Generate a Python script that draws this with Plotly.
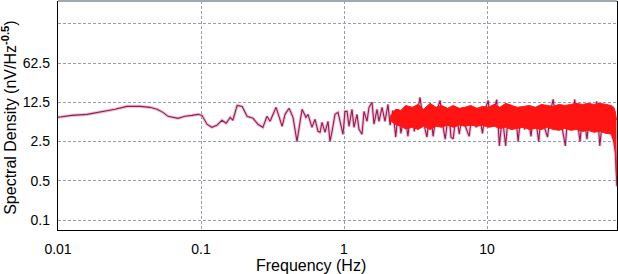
import plotly.graph_objects as go

# ---- data (frequency in Hz, spectral density in nV/Hz^-0.5)
low_freq = [0.0100, 0.0125, 0.0160, 0.0197, 0.0250, 0.0304, 0.0375, 0.0440, 0.0492, 0.0542,
            0.0588, 0.0690, 0.0773, 0.0865, 0.0953, 0.1016, 0.110, 0.119, 0.129, 0.140,
            0.150, 0.160, 0.167, 0.179, 0.194, 0.210, 0.231, 0.250, 0.271, 0.289,
            0.304, 0.335, 0.351, 0.369, 0.387, 0.413, 0.440, 0.469, 0.492, 0.509,
            0.542, 0.560, 0.597, 0.627, 0.658, 0.680, 0.702, 0.737, 0.773, 0.798,
            0.825, 0.865, 0.908, 0.953, 0.984, 1.016, 1.050, 1.084, 1.137, 1.175,
            1.233, 1.273, 1.336, 1.380, 1.448, 1.496, 1.570, 1.621, 1.701, 1.757,
            1.844, 1.935, 2.031]
low_psd = [6.77, 7.34, 7.65, 8.3, 9.4, 10.6, 10.6, 10.2, 9.4, 8.3,
           7.05, 6.5, 7.05, 7.34, 7.65, 7.34, 5.1, 4.49, 4.88, 6.0,
           5.3, 6.77, 6.0, 11.05, 10.6, 7.05, 6.5, 5.1, 4.49, 7.05,
           5.75, 10.2, 6.77, 4.68, 7.65, 9.8, 6.77, 2.5, 5.5, 9.4,
           6.77, 7.65, 4.49, 6.25, 3.81, 3.66, 5.5, 3.66, 5.75, 2.5,
           3.81, 7.65, 8.3, 5.1, 3.37, 8.65, 8.65, 4.68, 9.4, 4.49,
           7.65, 4.14, 3.37, 8.65, 5.75, 10.2, 12.5, 5.1, 9.4, 5.75,
           10.2, 5.75, 11.5]

spike_freq = [2.1, 2.2, 2.3, 2.4, 2.5, 2.65, 2.8, 2.95, 3.1, 3.25,
              3.4, 3.6, 3.8, 4.0, 4.2, 4.45, 4.7, 4.9, 5.1, 5.4,
              5.6, 5.8, 6.1, 6.4, 6.8, 7.1, 7.5, 7.9, 8.4, 8.9,
              9.3, 9.8, 10.2, 10.6, 11.1, 11.7, 12.2, 12.8, 13.5, 14.2,
              15.0, 15.8, 16.5, 17.4, 18.3, 19.2, 20.3, 21.4, 23.0, 24.0,
              25.2, 26.5, 27.8, 29.0, 30.5, 31.8, 33.5, 35.3, 37.0, 39.0,
              41.0, 43.0, 44.7, 47.0, 50.0, 52.5, 55.0, 58.5, 61.5, 65.0,
              70.0, 74.0, 77.0, 79.0, 81.0]
spike_psd = [4.9, 9.0, 3.0, 9.4, 3.5, 8.3, 3.1, 10.2, 3.8, 8.6,
             15.3, 5.5, 3.0, 9.4, 3.1, 8.6, 13.5, 5.0, 2.75, 8.6,
             3.0, 2.8, 8.0, 3.4, 9.4, 4.5, 3.1, 8.6, 4.5, 7.0,
             3.5, 10.0, 13.5, 4.5, 8.6, 14.0, 2.1, 7.0, 2.1, 9.4,
             4.1, 8.6, 2.5, 9.4, 4.1, 8.6, 3.1, 9.4, 2.5, 9.4,
             4.5, 3.0, 8.6, 14.1, 5.5, 9.4, 4.1, 2.1, 9.4, 4.5,
             14.1, 5.5, 2.5, 9.4, 2.75, 8.6, 4.1, 13.0, 2.1, 8.6,
             4.0, 3.5, 2.5, 1.6, 0.4]

band_freq = [2.1, 2.3, 2.5, 2.7, 3.0, 3.3, 3.6, 4.0, 4.4, 4.8,
             5.3, 5.8, 6.4, 7.0, 7.7, 8.5, 9.3, 10.2, 11.2, 12.3,
             13.5, 14.8, 16.3, 18.0, 19.8, 21.8, 24.0, 26.4, 29.0, 32.0,
             35.0, 38.5, 42.3, 46.5, 51.0, 56.0, 62.0, 68.0, 74.0, 77.0,
             79.0, 80.5]
band_top = [7.0, 9.4, 9.0, 11.0, 10.2, 11.5, 9.4, 12.0, 10.2, 11.0,
            9.8, 11.0, 9.8, 10.2, 11.0, 9.8, 10.6, 10.2, 11.5, 10.2,
            12.0, 11.0, 10.2, 10.6, 11.0, 10.2, 11.5, 11.0, 10.6, 11.5,
            11.0, 11.5, 12.0, 11.5, 12.0, 11.5, 12.0, 11.5, 11.0, 10.2,
            8.5, 6.0]
band_bottom = [6.0, 5.0, 4.7, 4.2, 4.5, 4.1, 4.7, 4.1, 4.7, 4.5,
               4.9, 4.5, 4.9, 4.7, 4.9, 4.7, 4.9, 4.5, 4.7, 4.3,
               4.5, 4.1, 4.3, 4.5, 4.1, 4.3, 4.1, 4.5, 4.1, 3.97,
               4.3, 3.97, 4.1, 3.8, 3.97, 3.66, 3.8, 3.5, 3.4, 2.9,
               1.8, 0.6]

ytick_vals = [0.1, 0.5, 2.5, 12.5, 62.5, 312.5]
ytick_text = ["0.1", "0.5", "2.5", "12.5", "62.5", ""]
xtick_vals = [0.01, 0.1, 1, 10]
xtick_text = ["0.01", "0.1", "1", "10"]

line_freq = low_freq + spike_freq
line_psd = low_psd + spike_psd

fig = go.Figure()
# pink halo under the dark line
fig.add_trace(go.Scatter(x=line_freq, y=line_psd, mode="lines",
                         line=dict(color="rgba(225,140,185,0.55)", width=3.2),
                         hoverinfo="skip", showlegend=False))
fig.add_trace(go.Scatter(x=line_freq, y=line_psd, mode="lines",
                         line=dict(color="#8E1F4F", width=1.1),
                         showlegend=False))
# dense red band
fig.add_trace(go.Scatter(x=band_freq, y=band_bottom, mode="lines",
                         line=dict(color="#FF1414", width=1),
                         showlegend=False))
fig.add_trace(go.Scatter(x=band_freq, y=band_top, mode="lines",
                         line=dict(color="#FF1414", width=1),
                         fill="tonexty", fillcolor="#FF1414",
                         showlegend=False))

grid = "rgb(150,160,172)"
font = "Liberation Sans, Arial, sans-serif"

fig.update_layout(
    width=618, height=274,
    margin=dict(l=58, r=1, t=1, b=44, autoexpand=False),
    paper_bgcolor="white", plot_bgcolor="white",
    font=dict(family=font, size=14, color="black"),
    xaxis=dict(type="log", range=[-2, 1.909], automargin=False,
               tickvals=xtick_vals, ticktext=xtick_text,
               showgrid=True, gridcolor=grid, griddash="3px,2px", gridwidth=1,
               showline=True, linecolor="black", linewidth=1.3,
               ticks="outside", ticklen=6, tickcolor="rgba(0,0,0,0)",
               zeroline=False, tickfont=dict(size=14)),
    yaxis=dict(type="log", range=[-1.178, 2.904], automargin=False,
               tickvals=ytick_vals, ticktext=ytick_text,
               showgrid=True, gridcolor=grid, griddash="3px,2px", gridwidth=1,
               showline=True, linecolor="black", linewidth=1.3, mirror=True,
               ticks="outside", ticklen=4, tickcolor="rgba(0,0,0,0)",
               zeroline=False, tickfont=dict(size=14)),
    shapes=[dict(type="line", xref="paper", yref="paper", x0=0, x1=1, y0=1, y1=1,
                 line=dict(color="rgb(160,168,176)", width=2))],
    annotations=[
        dict(text="Frequency (Hz)", xref="paper", yref="paper",
             x=0.4526, y=-0.153, xanchor="center", yanchor="middle",
             showarrow=False, font=dict(size=16, family=font)),
        dict(text="Spectral Density (nV/Hz<sup><b>-0.5</b></sup>)", xref="paper", yref="paper",
             x=-0.088, y=0.489, xanchor="center", yanchor="middle", textangle=-90,
             showarrow=False, font=dict(size=16, family=font)),
    ],
)

fig.write_html("out.html", config={"displayModeBar": False},
               post_script="document.body.style.margin='0px';")
